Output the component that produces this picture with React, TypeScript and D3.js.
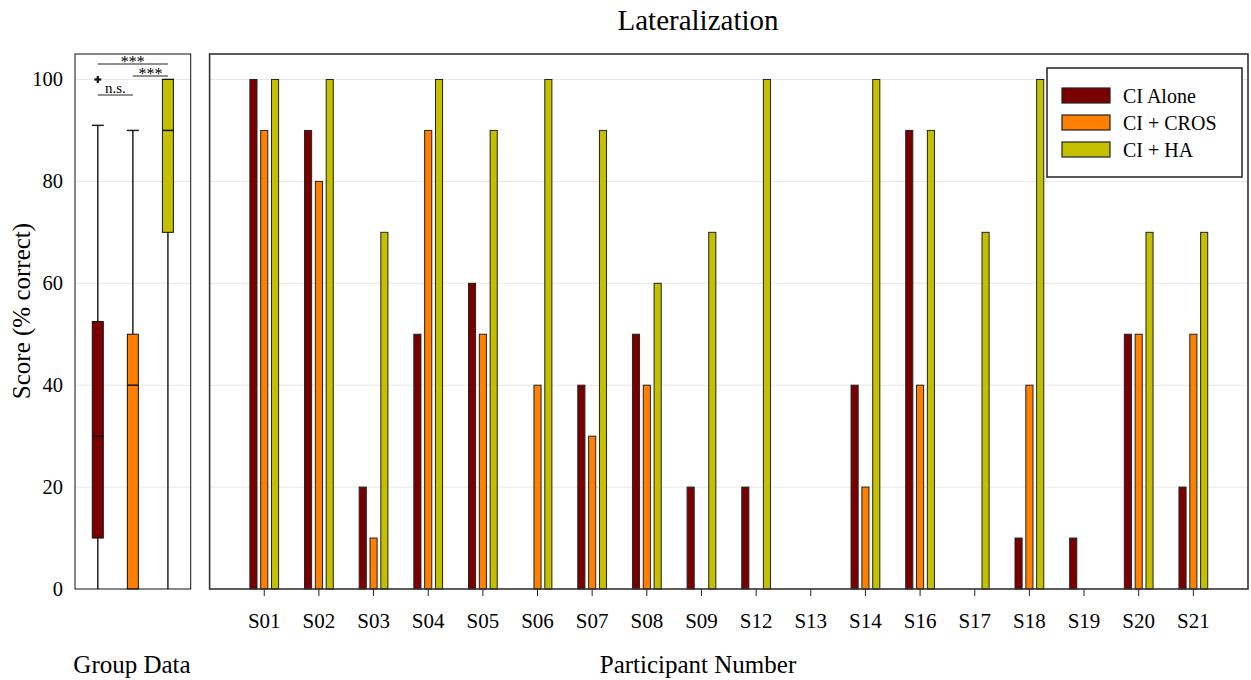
import React from "react";
import * as d3 from "d3";

const participants = ["S01","S02","S03","S04","S05","S06","S07","S08","S09","S12","S13","S14","S16","S17","S18","S19","S20","S21"];
const ciAlone = [100,90,20,50,60,0,40,50,20,20,0,40,90,0,10,10,50,20];
const ciCros = [90,80,10,90,50,40,30,40,0,0,0,20,40,0,40,0,50,50];
const ciHa = [100,100,70,100,90,100,90,60,70,100,0,100,90,70,100,0,70,70];
const seriesNames = ["CI Alone","CI + CROS","CI + HA"];
const seriesColors = ["#7a0000","#ff8000","#c4c000"];
const yTicks = [0,20,40,60,80,100];

// group box stats: [whiskerLow, q1, median, q3, whiskerHigh]
const boxStats = [
  [0,10,30,52.5,91],
  [0,0,40,50,90],
  [0,70,90,100,100],
];
const outliers = [[0,100]]; // [groupIndex, value]

const FONT = "Liberation Serif, Times New Roman, serif";

export default function App() {
  const W = 1251, H = 680;
  const yTop = 54, yBot = 589;
  const y = d3.scaleLinear().domain([0,105]).range([yBot, yTop]);
  const mainL = 209.6, mainR = 1248;
  const x = d3.scaleLinear().domain([0,19]).range([mainL, mainR]);
  const boxL = 75, boxR = 190.7;
  const xb = d3.scaleLinear().domain([0.35,3.65]).range([boxL, boxR]);
  const series = [ciAlone, ciCros, ciHa];
  const offs = [-0.198, 0, 0.198];
  const bw = 0.13 * (x(1) - x(0));
  const boxW = 11;

  return (
    <svg width={W} height={H} style={{position:"absolute",left:0,top:0,background:"#fff"}} fontFamily={FONT}>
      <text x={698} y={30} textAnchor="middle" fontSize={29}>Lateralization</text>
      {/* Left panel */}
      {yTicks.map(t => (
        <g key={"lg"+t}>
          {t>0 && <line x1={boxL} x2={boxR} y1={y(t)} y2={y(t)} stroke="#e8e8e8" strokeWidth={1}/>}
          <text x={63} y={y(t)+7} textAnchor="end" fontSize={20.5}>{t}</text>
        </g>
      ))}
      <text transform={`translate(30,${311}) rotate(-90)`} textAnchor="middle" fontSize={25}>Score (% correct)</text>
      {boxStats.map((s,i) => {
        const cx = xb(i+1);
        return (
          <g key={"box"+i}>
            <line x1={cx} x2={cx} y1={y(s[0])} y2={y(s[4])} stroke="#222" strokeWidth={1.5}/>
            <line x1={cx-6} x2={cx+6} y1={y(s[4])} y2={y(s[4])} stroke="#222" strokeWidth={1.5}/>
            <rect x={cx-boxW/2} y={y(s[3])} width={boxW} height={y(s[1])-y(s[3])} fill={seriesColors[i]} stroke="#111" strokeWidth={1}/>
            <line x1={cx-boxW/2} x2={cx+boxW/2} y1={y(s[2])} y2={y(s[2])} stroke="#111" strokeWidth={1.5}/>
          </g>
        );
      })}
      {outliers.map(([g,v],i) => {
        const cx = xb(g+1), cy = y(v);
        return (
          <g key={"o"+i} stroke="#111" strokeWidth={2.2}>
            <line x1={cx-3.5} x2={cx+3.5} y1={cy} y2={cy}/>
            <line x1={cx} x2={cx} y1={cy-3.5} y2={cy+3.5}/>
          </g>
        );
      })}
      {/* significance */}
      <line x1={xb(1)} x2={xb(3)} y1={64} y2={64} stroke="#222" strokeWidth={1}/>
      <text x={(xb(1)+xb(3))/2} y={67} textAnchor="middle" fontSize={16}>***</text>
      <line x1={xb(2)} x2={xb(3)} y1={76} y2={76} stroke="#222" strokeWidth={1}/>
      <text x={(xb(2)+xb(3))/2} y={79} textAnchor="middle" fontSize={16}>***</text>
      <line x1={xb(1)} x2={xb(2)} y1={95} y2={95} stroke="#222" strokeWidth={1}/>
      <text x={(xb(1)+xb(2))/2} y={93} textAnchor="middle" fontSize={15}>n.s.</text>
      <rect x={boxL} y={yTop} width={boxR-boxL} height={yBot-yTop} fill="none" stroke="#111" strokeWidth={1}/>
      <text x={132} y={673} textAnchor="middle" fontSize={25}>Group Data</text>

      {/* Main panel */}
      {yTicks.filter(t=>t>0).map(t => (
        <line key={"mg"+t} x1={mainL} x2={mainR} y1={y(t)} y2={y(t)} stroke="#e8e8e8" strokeWidth={1}/>
      ))}
      {participants.map((p,i) => (
        <g key={p}>
          {series.map((vals,k) => vals[i] > 0 ? (
            <rect key={k} x={x(i+1+offs[k]) - bw/2} y={y(vals[i])} width={bw} height={y(0)-y(vals[i])} fill={seriesColors[k]} stroke="#222" strokeWidth={1}/>
          ) : null)}
          <line x1={x(i+1)} x2={x(i+1)} y1={yBot} y2={yBot+7} stroke="#222" strokeWidth={1}/>
          <text x={x(i+1)} y={628} textAnchor="middle" fontSize={21}>{p}</text>
        </g>
      ))}
      <rect x={mainL} y={yTop} width={mainR-mainL} height={yBot-yTop} fill="none" stroke="#333" strokeWidth={1.6}/>
      <text x={698} y={673} textAnchor="middle" fontSize={25}>Participant Number</text>

      {/* Legend */}
      <rect x={1047} y={68} width={195} height={109} fill="#fff" stroke="#222" strokeWidth={1.5}/>
      {seriesNames.map((n,k) => (
        <g key={n}>
          <rect x={1062} y={88 + k*27} width={48} height={15} fill={seriesColors[k]} stroke="#222" strokeWidth={1.2}/>
          <text x={1123} y={103 + k*27} fontSize={20}>{n}</text>
        </g>
      ))}
    </svg>
  );
}
